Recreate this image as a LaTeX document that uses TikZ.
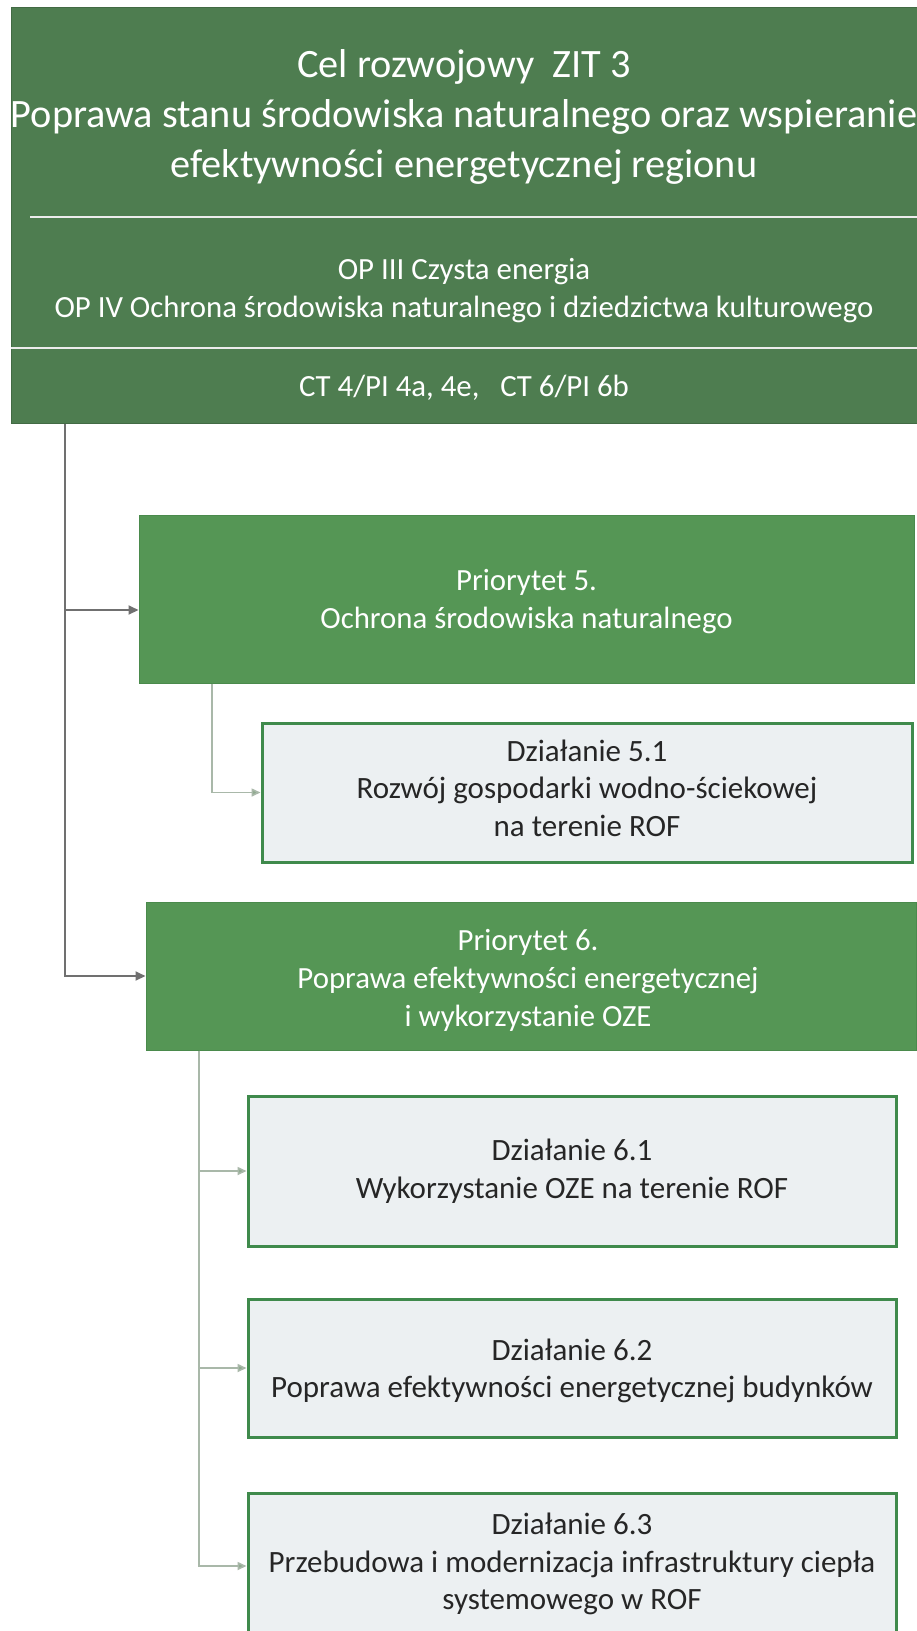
\documentclass[tikz,border=0pt]{standalone}
\usepackage{fontspec}
\setmainfont{Carlito}
\usetikzlibrary{arrows.meta,calc}
\definecolor{topgreen}{HTML}{4E7D50}
\definecolor{prigreen}{HTML}{559655}
\definecolor{prigreenedge}{HTML}{4A8A4C}
\definecolor{actfill}{HTML}{ECF0F2}
\definecolor{actedge}{HTML}{3F8A4C}
\definecolor{mainline}{HTML}{707070}
\definecolor{subline}{HTML}{A9B8A9}
\definecolor{subtip}{HTML}{8FAA8F}
\definecolor{acttext}{HTML}{262626}
\begin{document}
\begin{tikzpicture}[x=1pt,y=-1pt,
  topbox/.style={draw=topgreen!85!black,line width=1pt,fill=topgreen,minimum width=906pt,minimum height=416pt,inner sep=0pt},
  pribox/.style={draw=prigreenedge,line width=1pt,fill=prigreen,inner sep=0pt},
  actbox/.style={draw=actedge,line width=3pt,fill=actfill,minimum width=648pt,inner sep=0pt},
  whitetext/.style={text=white,align=center,font=\fontsize{30.8}{38}\selectfont},
  darktext/.style={text=acttext,align=center,font=\fontsize{31}{37.5}\selectfont},
  sepline/.style={draw=white!85!gray,line width=2pt},
  mainconn/.style={draw=mainline,line width=2pt,-{Triangle[length=10pt,width=9pt]}},
  subconn/.style={draw=subline,line width=1.6pt,-{Triangle[length=9pt,width=8pt,fill=subtip]}},
]
\useasboundingbox (0,0) rectangle (917,1631);
\fill[white] (0,0) rectangle (917,1631);

% top block
\node[topbox] (top) at (464,215) {};
\node[text=white,align=center,font=\fontsize{40.3}{50}\selectfont] (title) at (464,117)
  {Cel rozwojowy\ \ ZIT 3\\Poprawa stanu środowiska naturalnego oraz wspieranie\\efektywności energetycznej regionu};
\coordinate (s1a) at (30,217);
\coordinate (s1b) at (917,217);
\coordinate (s2a) at (11,348);
\coordinate (s2b) at (917,348);
\draw[sepline] (s1a) -- (s1b);
\draw[sepline] (s2a) -- (s2b);
\node[whitetext] (op) at (464,291)
  {OP III Czysta energia\\OP IV Ochrona środowiska naturalnego i dziedzictwa kulturowego};
\node[whitetext] (ct) at (464,388) {CT 4/PI 4a, 4e,\ \ \ CT 6/PI 6b};

% priorities
\node[pribox,minimum width=775pt,minimum height=168pt] (p5) at (526.5,599) {};
\node[whitetext] (p5t) at (526.5,602) {Priorytet 5.\\Ochrona środowiska naturalnego};
\node[pribox,minimum width=770pt,minimum height=148pt] (p6) at (531,976) {};
\node[whitetext] (p6t) at (528,980) {Priorytet 6.\\Poprawa efektywności energetycznej\\i wykorzystanie OZE};

% actions
\node[actbox,minimum width=650pt,minimum height=139pt] (d51) at (587,792.5) {};
\node[darktext] (d51t) at (587,788) {Działanie 5.1\\Rozwój gospodarki wodno-ściekowej\\na terenie ROF};
\node[actbox,minimum height=150pt] (d61) at (572,1171) {};
\node[darktext] (d61t) at (572,1171) {Działanie 6.1\\Wykorzystanie OZE na terenie ROF};
\node[actbox,minimum height=138pt] (d62) at (572,1368) {};
\node[darktext] (d62t) at (572,1371) {Działanie 6.2\\Poprawa efektywności energetycznej budynków};
\node[actbox,minimum height=146pt] (d63) at (572,1566) {};
\node[darktext] (d63t) at (572,1564) {Działanie 6.3\\Przebudowa i modernizacja infrastruktury ciepła\\systemowego w ROF};

% connectors
\coordinate (mx) at (65,0);
\coordinate (p5x) at (212,0);
\coordinate (p6x) at (199,0);
\draw[mainconn] (top.south -| mx) |- ([yshift=-11pt]p5.west);
\draw[mainconn] (top.south -| mx) |- (p6.west);
\draw[subconn] (p5.south -| p5x) |- (d51.west);
\draw[subconn] (p6.south -| p6x) |- (d61.west);
\draw[subconn] (p6.south -| p6x) |- (d62.west);
\draw[subconn] (p6.south -| p6x) |- (d63.west);
\end{tikzpicture}
\end{document}
